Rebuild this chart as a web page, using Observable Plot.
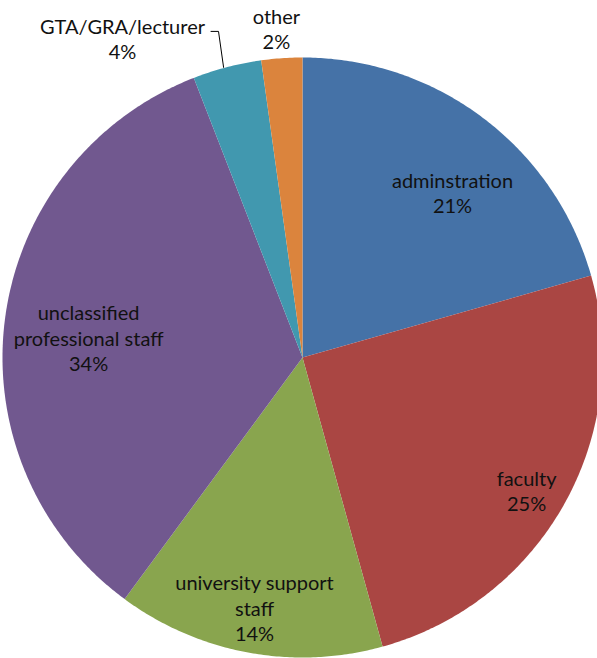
<!DOCTYPE html>
<html>
<head>
<meta charset="utf-8">
<script src="https://cdn.jsdelivr.net/npm/d3@7"></script>
<script src="https://cdn.jsdelivr.net/npm/@observablehq/plot@0.6"></script>
<style>
  html, body { margin: 0; padding: 0; background: #fff; }
  svg { display: block; }
</style>
</head>
<body>
<div id="chart"></div>
<script>
// Data
const categories = ["adminstration", "faculty", "university support staff", "unclassified professional staff", "GTA/GRA/lecturer", "other"];
const values = [20.6, 25.1, 14.4, 34.0, 3.7, 2.2];
const percentLabels = ["21%", "25%", "14%", "34%", "4%", "2%"];
const labelLines = [
  ["adminstration"],
  ["faculty"],
  ["university support", "staff"],
  ["unclassified", "professional staff"],
  ["GTA/GRA/lecturer"],
  ["other"]
];
const colors = ["#4572A7", "#AA4643", "#89A54E", "#71588F", "#4198AF", "#DB843D"];

// Layout: label anchors in radius units (centre = 0,0; y up)
const labelAnchor = [
  [0.50, 0.55],
  [0.747, -0.443],
  [-0.16, -0.833],
  [-0.713, 0.067],
  [-0.60, 1.063],
  [-0.087, 1.097]
];
const leader = [[-0.305, 1.087], [-0.28, 1.087], [-0.263, 0.967]];

// Build slice outlines (angles clockwise from 12 o'clock)
const total = d3.sum(values);
const slicePts = [];
let cum = 0;
categories.forEach((c, i) => {
  const a0 = cum / total * 2 * Math.PI;
  cum += values[i];
  const a1 = cum / total * 2 * Math.PI;
  slicePts.push({cat: c, x: 0, y: 0});
  const n = Math.max(2, Math.ceil((a1 - a0) / (Math.PI / 360)));
  for (let k = 0; k <= n; k++) {
    const a = a0 + (a1 - a0) * k / n;
    slicePts.push({cat: c, x: Math.sin(a), y: Math.cos(a)});
  }
  slicePts.push({cat: c, x: 0, y: 0});
});

const labels = categories.map((c, i) => ({
  text: [...labelLines[i], percentLabels[i]].join("\n"),
  x: labelAnchor[i][0],
  y: labelAnchor[i][1]
}));

const chart = Plot.plot({
  width: 597,
  height: 658,
  margin: 0,
  style: {fontFamily: "Lato, 'Open Sans', sans-serif", background: "#fff"},
  x: {domain: [-1, 1], range: [2, 602], axis: null},
  y: {domain: [-1, 1], range: [657, 57], axis: null},
  color: {type: "ordinal", domain: categories, range: colors},
  marks: [
    Plot.line(slicePts, {x: "x", y: "y", z: "cat", fill: "cat", stroke: "none", curve: "linear"}),
    Plot.line(leader, {x: d => d[0], y: d => d[1], stroke: "#000", strokeWidth: 1}),
    Plot.text(labels, {x: "x", y: "y", text: "text", fontSize: 20, fill: "#111", lineHeight: 1.27, textAnchor: "middle", lineAnchor: "middle"})
  ]
});
document.getElementById("chart").appendChild(chart);
</script>
</body>
</html>
